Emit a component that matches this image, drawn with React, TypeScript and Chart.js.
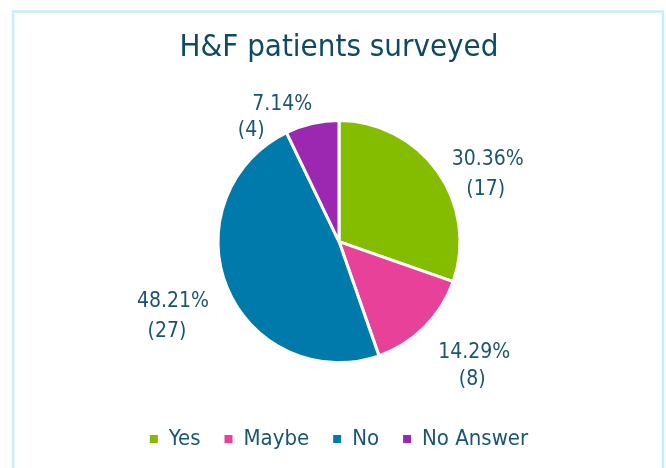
import { useEffect, useRef } from "react";
import { Chart, registerables } from "chart.js";

Chart.register(...registerables);

const categories = ["Yes", "Maybe", "No", "No Answer"];
const counts = [17, 8, 27, 4];
const sliceColors = ["#84bd00", "#e8419a", "#0079ab", "#9c27b0"];
const titleText = "H&F patients surveyed";

// label nudges relative to the mid-angle anchor: [line1 dx, line1 dy, line2 dx, line2 dy]
const LABEL_NUDGE = [
  [10, 16, 8, 46],
  [15, -9, 13, 18],
  [-9, -5, -15, 25],
  [-19, 29, -50, 55],
];

const FONT = "'DejaVu Sans Condensed', 'DejaVu Sans', sans-serif";
const TEXT_COLOR = "#1a5572";

const borderPlugin = {
  id: "frameBorder",
  beforeDraw(chart: any) {
    const ctx = chart.ctx;
    ctx.save();
    ctx.strokeStyle = "#c5edfd";
    ctx.lineWidth = 2.5;
    ctx.strokeRect(13, 11.5, chart.width - 16, chart.height + 20);
    ctx.restore();
  },
};

const labelPlugin = {
  id: "sliceLabels",
  afterDatasetsDraw(chart: any) {
    const meta = chart.getDatasetMeta(0);
    const ctx = chart.ctx;
    const data = chart.data.datasets[0].data as number[];
    const total = data.reduce((a, b) => a + b, 0);
    ctx.save();
    ctx.fillStyle = TEXT_COLOR;
    ctx.font = `21px ${FONT}`;
    ctx.textAlign = "center";
    ctx.textBaseline = "middle";
    meta.data.forEach((arc: any, i: number) => {
      const { x, y, startAngle, endAngle, outerRadius } = arc.getProps(
        ["x", "y", "startAngle", "endAngle", "outerRadius"],
        true
      );
      const mid = (startAngle + endAngle) / 2;
      const d = outerRadius + 49;
      const ax = x + Math.cos(mid) * d;
      const ay = y + Math.sin(mid) * d;
      const n = LABEL_NUDGE[i];
      const pct = ((data[i] / total) * 100).toFixed(2) + "%";
      ctx.fillText(pct, ax + n[0], ay + n[1]);
      ctx.fillText(`(${data[i]})`, ax + n[2], ay + n[3]);
    });
    ctx.restore();
  },
};

const defaultGenerate = (Chart as any).overrides.pie.plugins.legend.labels.generateLabels;

export default function App() {
  const ref = useRef<HTMLCanvasElement>(null);
  useEffect(() => {
    document.body.style.margin = "0";
    const chart = new Chart(ref.current!, {
      type: "pie",
      data: {
        labels: categories,
        datasets: [
          {
            data: counts,
            backgroundColor: sliceColors,
            borderColor: "#ffffff",
            borderWidth: 3,
            radius: 121,
          },
        ],
      },
      options: {
        animation: false,
        responsive: false,
        layout: { padding: { left: 12, right: 0, top: 12, bottom: 8 } },
        plugins: {
          title: {
            display: true,
            text: titleText,
            color: "#0e4a63",
            font: { family: FONT, size: 31, weight: "normal" },
            padding: { top: 17, bottom: 13 },
          },
          legend: {
            position: "bottom",
            labels: {
              color: TEXT_COLOR,
              font: { family: FONT, size: 22 },
              boxWidth: 8,
              boxHeight: 8,
              padding: 24,
              generateLabels: (c: any) =>
                defaultGenerate(c).map((it: any) => ({ ...it, lineWidth: 0 })),
            },
          },
          tooltip: { enabled: false },
        },
      },
      plugins: [borderPlugin, labelPlugin],
    });
    return () => chart.destroy();
  }, []);
  return (
    <div style={{ width: 666, height: 468, background: "#ffffff" }}>
      <canvas ref={ref} width={666} height={468} />
    </div>
  );
}
